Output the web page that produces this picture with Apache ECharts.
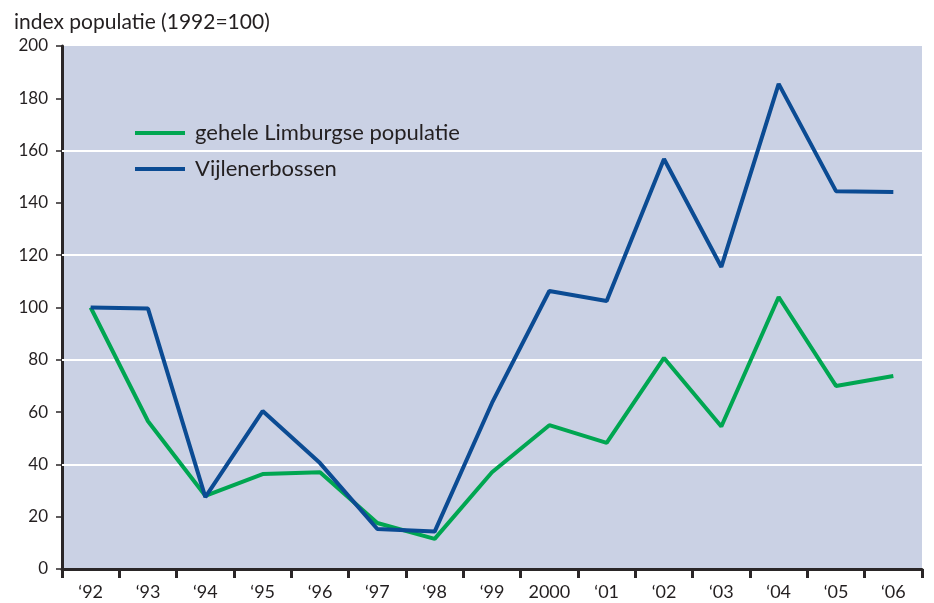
<!DOCTYPE html>
<html><head><meta charset="utf-8">
<script src="https://cdn.jsdelivr.net/npm/echarts@6/dist/echarts.min.js"></script>
<style>html,body{margin:0;padding:0;background:#fff}#c{width:934px;height:603px}</style>
</head><body><div id="c"></div>
<script>
const categories = ['‘92','‘93','‘94','‘95','‘96','‘97','‘98','‘99','2000','‘01','‘02','‘03','‘04','‘05','‘06'];
const limburg = [100, 56.5, 28, 36.3, 37, 17.6, 11.5, 37, 55, 48.2, 80.7, 54.5, 104, 70, 73.8];
const vijlener = [100, 99.6, 27.5, 60.4, 40.5, 15.3, 14.3, 63.5, 106.3, 102.5, 156.8, 115.5, 185.5, 144.5, 144.2];
const gridValues = [40, 80, 120, 160];
const seriesNames = ['gehele Limburgse populatie', 'Vijlenerbossen'];
const titleText = 'index populatie (1992=100)';

const font = 'Lato';
const axisColor = '#2a2627';
const chart = echarts.init(document.getElementById('c'), null, {renderer:'canvas'});
chart.setOption({
  animation: false,
  backgroundColor: '#ffffff',
  textStyle: {fontFamily: font},
  title: {text: titleText, left: 9, top: 7, textStyle: {fontFamily: font, fontSize: 21, fontWeight: 'normal', color: '#231f20'}},
  legend: {
    left: 130, top: 117, orient: 'vertical', itemGap: 14, itemWidth: 50, itemHeight: 4,
    icon: 'rect',
    textStyle: {fontFamily: font, fontSize: 22, color: '#231f20', padding: [0,0,0,5]},
    data: seriesNames
  },
  grid: {left: 62, right: 12, top: 46, bottom: 34, show: true, backgroundColor: '#cad1e4', borderWidth: 0},
  xAxis: {
    type: 'category', data: categories, boundaryGap: true,
    axisLine: {lineStyle: {color: axisColor, width: 3}},
    axisTick: {show: true, length: 9, lineStyle: {color: axisColor, width: 3}},
    axisLabel: {fontFamily: font, fontSize: 18, color: '#231f20', margin: 14}
  },
  yAxis: {
    type: 'value', min: 0, max: 200, interval: 20,
    axisLine: {show: true, lineStyle: {color: axisColor, width: 3}},
    axisTick: {show: true, length: 6, lineStyle: {color: axisColor, width: 1.5}},
    axisLabel: {fontFamily: font, fontSize: 17, color: '#231f20', margin: 14},
    splitLine: {show: false}
  },
  series: [
    {
      name: seriesNames[0], type: 'line', data: limburg, symbol: 'none',
      lineStyle: {color: '#00a651', width: 4}, itemStyle: {color: '#00a651'}, z: 3,
      markLine: {
        silent: true, symbol: 'none', label: {show: false},
        lineStyle: {color: '#ffffff', width: 2, type: 'solid'},
        data: gridValues.map(v => ({yAxis: v})), z: 1
      }
    },
    {
      name: seriesNames[1], type: 'line', data: vijlener, symbol: 'none',
      lineStyle: {color: '#0b4b93', width: 4}, itemStyle: {color: '#0b4b93'}, z: 4
    }
  ]
});
</script></body></html>
